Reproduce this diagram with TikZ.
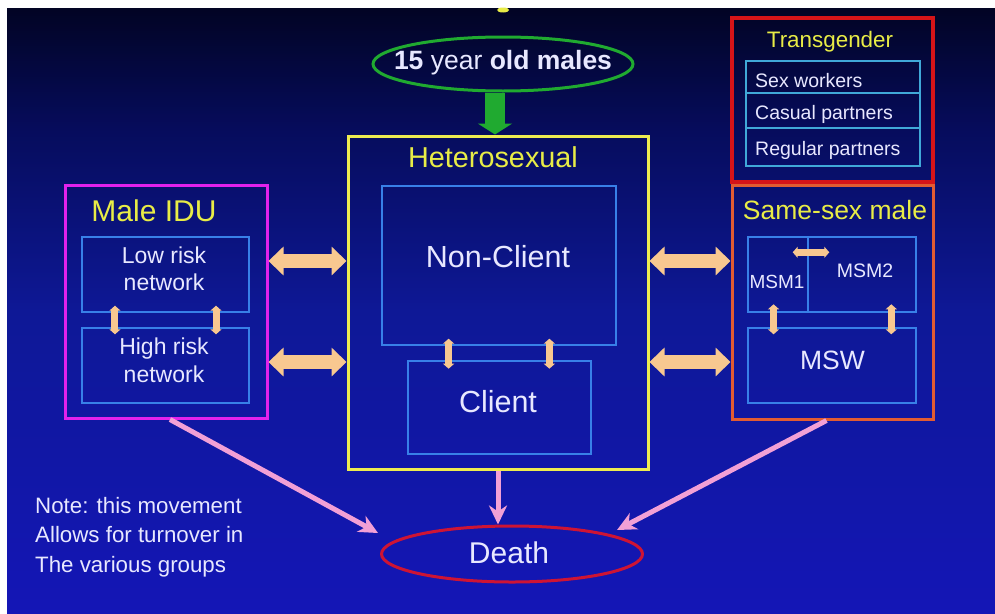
\documentclass[tikz,border=0pt]{standalone}
\usepackage{fontspec}
\setmainfont{Liberation Sans}
\usetikzlibrary{arrows.meta,shapes.geometric,calc}

\definecolor{bgtop}{RGB}{2,4,36}
\definecolor{bgupper}{RGB}{6,12,92}
\definecolor{bgmid}{RGB}{14,24,150}
\definecolor{bgbot}{RGB}{20,22,182}
\definecolor{hetyellow}{RGB}{238,236,80}
\definecolor{titleyellow}{RGB}{232,236,70}
\definecolor{idumagenta}{RGB}{226,34,236}
\definecolor{tgred}{RGB}{214,20,24}
\definecolor{ssmorange}{RGB}{226,92,50}
\definecolor{subblue}{RGB}{56,128,232}
\definecolor{tgcyan}{RGB}{64,168,216}
\definecolor{peach}{RGB}{248,200,144}
\definecolor{pinkflow}{RGB}{242,160,214}
\definecolor{entrygreen}{RGB}{32,170,48}
\definecolor{deathred}{RGB}{206,20,52}
\definecolor{labelwhite}{RGB}{232,232,255}

% slide background: dark navy at the top, royal blue at the bottom
\pgfdeclareverticalshading{slidebg}{100bp}{color(0bp)=(bgbot); color(25bp)=(bgbot); color(50bp)=(bgmid); color(65bp)=(bgupper); color(75bp)=(bgtop); color(100bp)=(bgtop)}

\newcommand{\fs}[2]{\fontsize{#1}{#2}\selectfont}

\begin{document}
\begin{tikzpicture}[x=1pt,y=-1pt,
  grpbox/.style={draw=#1, line width=3pt, inner sep=0pt},
  subbox/.style={draw=subblue, line width=1.4pt, inner sep=0pt},
  tgrow/.style={draw=tgcyan, line width=1.4pt, inner sep=0pt, minimum width=174pt},
  ytext/.style={text=titleyellow, inner sep=0pt},
  wtext/.style={text=labelwhite, inner sep=0pt},
  oval/.style={ellipse, draw=#1, line width=3pt, inner sep=0pt},
  fatarrow/.style={draw=peach, line width=14pt,
    {Triangle[length=15pt,width=28pt]}-{Triangle[length=15pt,width=28pt]}},
  smallarrow/.style={draw=peach, line width=7pt,
    {Triangle[length=5pt,width=11pt]}-{Triangle[length=5pt,width=11pt]}},
  entryarrow/.style={draw=entrygreen, line width=20pt,
    -{Triangle[length=11pt,width=34pt]}},
  exitarrow/.style={draw=pinkflow, line width=5pt,
    -{Stealth[length=19pt,width=18pt,inset=6pt]}}
]
\useasboundingbox (0,0) rectangle (995,613);
\fill[white] (0,0) rectangle (995,613);
\shade[shading=slidebg] (7,8) rectangle (995,613);
\fill[titleyellow] (503,10) ellipse (6 and 2.5);

% entry population
\node[oval=entrygreen, minimum width=260pt, minimum height=54pt] (youth) at (503,64) {};
\node[wtext, anchor=base, font=\fs{26.5}{31}] (youthlbl) at (503,69)
  {\textbf{15} year \textbf{old males}};

% heterosexual group
\node[grpbox=hetyellow, minimum width=300pt, minimum height=333pt] (het) at (498,302.5) {};
\node[ytext, anchor=base, font=\fs{28.8}{34}] (hetlbl) at (493,167) {Heterosexual};
\node[subbox, minimum width=234pt, minimum height=159pt] (nonclient) at (499,265.5) {};
\node[wtext, anchor=base, font=\fs{30.5}{36}] (nonclientlbl) at (498,267) {Non-Client};
\node[subbox, minimum width=183pt, minimum height=93pt] (client) at (499.5,407.5) {};
\node[wtext, anchor=base, font=\fs{30.5}{36}] (clientlbl) at (498,412) {Client};

% male IDU group (multi-line labels are placed by their last baseline)
\node[grpbox=idumagenta, minimum width=202pt, minimum height=233pt] (idu) at (166,301.5) {};
\node[ytext, anchor=base, font=\fs{30}{35}] (idulbl) at (154,221) {Male IDU};
\node[subbox, minimum width=167pt, minimum height=75pt] (lowrisk) at (165.5,274.5) {};
\node[wtext, anchor=base, align=center, font=\fs{23}{27}] (lowrisklbl) at (164,290) {Low risk\\network};
\node[subbox, minimum width=167pt, minimum height=75pt] (highrisk) at (165.5,365.5) {};
\node[wtext, anchor=base, align=center, font=\fs{23}{28}] (highrisklbl) at (164,382) {High risk\\network};

% transgender group
\node[grpbox=tgred, line width=4pt, minimum width=201pt, minimum height=164pt] (tg) at (832.5,100) {};
\node[ytext, anchor=base, font=\fs{22.4}{26}] (tglbl) at (830,47) {Transgender};
\node[tgrow, minimum height=32pt] (tgsex) at (833,77) {};
\node[tgrow, minimum height=35pt] (tgcasual) at (833,110.5) {};
\node[tgrow, minimum height=38pt] (tgregular) at (833,147) {};
\node[wtext, anchor=base west, font=\fs{19.5}{23}] (tgsexlbl) at (755,87) {Sex workers};
\node[wtext, anchor=base west, font=\fs{19.5}{23}] (tgcasuallbl) at (755,119) {Casual partners};
\node[wtext, anchor=base west, font=\fs{19.5}{23}] (tgregularlbl) at (755,155) {Regular partners};

% same-sex male group
\node[grpbox=ssmorange, minimum width=201pt, minimum height=234pt] (ssm) at (832.5,302) {};
\node[ytext, anchor=base, font=\fs{26.5}{31}] (ssmlbl) at (835,219) {Same-sex male};
\node[subbox, minimum width=60pt, minimum height=75pt] (msma) at (778,274.5) {};
\node[subbox, minimum width=108pt, minimum height=75pt] (msmb) at (862,274.5) {};
\node[wtext, anchor=base, font=\fs{19}{22}] (msmalbl) at (777,288) {MSM1};
\node[wtext, anchor=base, font=\fs{19.5}{22}] (msmblbl) at (865,277) {MSM2};
\node[subbox, minimum width=168pt, minimum height=75pt] (msw) at (832,365.5) {};
\node[wtext, anchor=base, font=\fs{26.5}{31}] (mswlbl) at (832.5,369) {MSW};

% exit
\node[oval=deathred, minimum width=261pt, minimum height=56pt] (death) at (512,554) {};
\node[wtext, anchor=base, font=\fs{30}{35}] (deathlbl) at (509,563) {Death};

\node[wtext, anchor=base west, align=left, font=\fs{22.3}{29.5}] (note) at (35,572)
  {Note: this movement\\Allows for turnover in\\The various groups};

% flows between groups
\coordinate (gx) at (495,0);
\coordinate (ya) at (0,261);
\coordinate (yb) at (0,362);
\draw[entryarrow] (youth.south -| gx) -- (het.north -| gx);
\draw[fatarrow] (idu.east |- ya) -- (het.west |- ya);
\draw[fatarrow] (idu.east |- yb) -- (het.west |- yb);
\draw[fatarrow] (het.east |- ya) -- (ssm.west |- ya);
\draw[fatarrow] (het.east |- yb) -- (ssm.west |- yb);

% movement inside groups
\draw[smallarrow] ($(lowrisk.south west)!0.2!(lowrisk.south east)+(0,-7)$) -- ($(highrisk.north west)!0.2!(highrisk.north east)+(0,7)$);
\draw[smallarrow] ($(lowrisk.south west)!0.8!(lowrisk.south east)+(0,-7)$) -- ($(highrisk.north west)!0.8!(highrisk.north east)+(0,7)$);
\draw[smallarrow] ($(nonclient.south west)!0.286!(nonclient.south east)+(0,-7)$) -- ($(nonclient.south west)!0.286!(nonclient.south east)+(0,23)$);
\draw[smallarrow] ($(nonclient.south west)!0.714!(nonclient.south east)+(0,-7)$) -- ($(nonclient.south west)!0.714!(nonclient.south east)+(0,23)$);
\draw[smallarrow] ($(msw.north west)!0.155!(msw.north east)+(0,-23)$) -- ($(msw.north west)!0.155!(msw.north east)+(0,7)$);
\draw[smallarrow] ($(msw.north west)!0.85!(msw.north east)+(0,-23)$) -- ($(msw.north west)!0.85!(msw.north east)+(0,7)$);
\draw[smallarrow] ($(msma.north east)+(-16,16)$) -- ($(msmb.north west)+(22,16)$);

% exits to death
\draw[exitarrow] ($(idu.south)+(4,0)$) -- ($(death.west)+(-2,-21)$);
\draw[exitarrow] (het.south) -- (het.south |- death.north);
\draw[exitarrow] ($(ssm.south)+(-6,0)$) -- ($(death.east)+(-27,-24)$);
\end{tikzpicture}
\end{document}
